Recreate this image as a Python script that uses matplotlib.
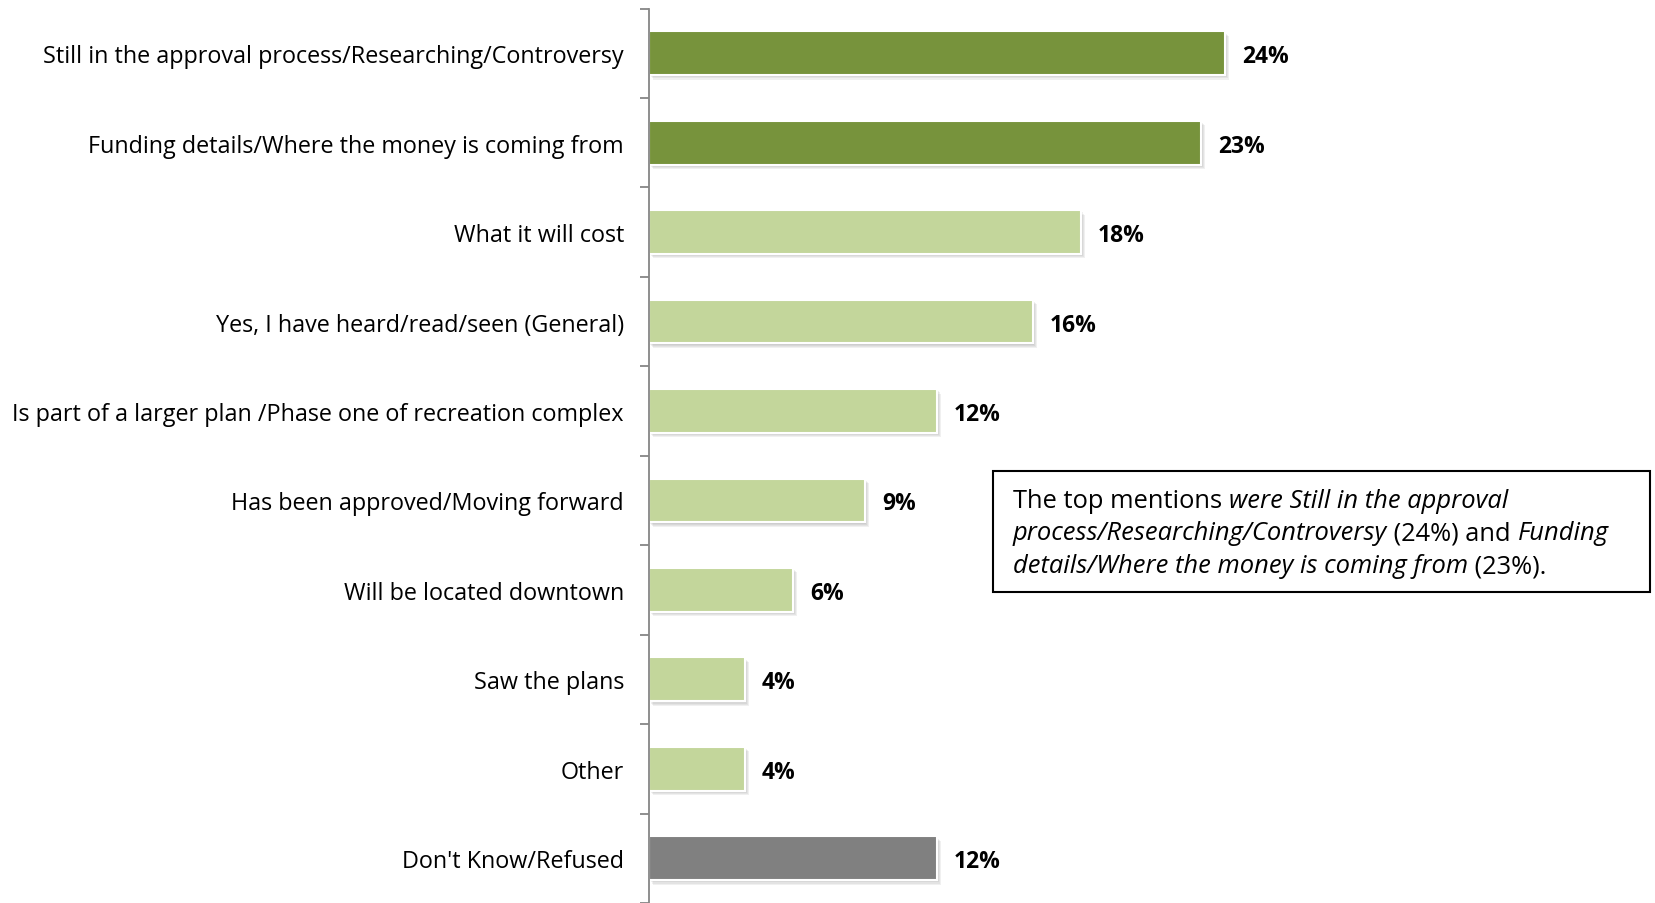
import numpy as np
import matplotlib
matplotlib.use('Agg')
import matplotlib.pyplot as plt
from matplotlib import patheffects as pe
from matplotlib.patches import Rectangle

plt.rcParams['font.family'] = ['Open Sans', 'DejaVu Sans']

# data
categories = [
    'Still in the approval process/Researching/Controversy',
    'Funding details/Where the money is coming from',
    'What it will cost',
    'Yes, I have heard/read/seen (General)',
    'Is part of a larger plan /Phase one of recreation complex',
    'Has been approved/Moving forward',
    'Will be located downtown',
    'Saw the plans',
    'Other',
    "Don't Know/Refused",
]
values = [24, 23, 18, 16, 12, 9, 6, 4, 4, 12]
groups = ['top', 'top', 'rest', 'rest', 'rest', 'rest', 'rest', 'rest', 'rest', 'dk']
group_colors = {'top': '#77933C', 'rest': '#C3D69B', 'dk': '#808080'}

W, H = 1655, 904
fig = plt.figure(figsize=(W / 100, H / 100), dpi=100)
x0 = 649
ax = fig.add_axes([x0 / W, 0, 1 - x0 / W, (H - 9.5) / H])

px_per_unit = 24.0
# soft drop shadow like the office chart
shadow = [pe.SimplePatchShadow(offset=(d, -d), shadow_rgbFace='#606060', alpha=0.09)
          for d in (0.8, 1.6, 2.4, 3.2)] + [pe.Normal()]
bars = ax.barh(range(len(values)), values, height=0.49,
               color=[group_colors[g] for g in groups],
               edgecolor='white', linewidth=1.5)
for b in bars:
    b.set_path_effects(shadow)

for i, v in enumerate(values):
    ax.text(v + 17 / px_per_unit, i, f'{v}%', va='center_baseline', ha='left',
            fontsize=16.5, fontweight='bold', color='black')

ax.set_xlim(0, (W - x0) / px_per_unit)
ax.set_ylim(len(values) - 0.5, -0.5)
ax.set_xticks([])
ax.set_yticks(range(len(values)))
ax.set_yticklabels(categories, fontsize=16.85)
ax.set_yticks(np.arange(-0.5, len(values), 1), minor=True)
ax.tick_params(axis='y', which='major', length=0, pad=18)
ax.tick_params(axis='y', which='minor', length=6.5, width=1.3, color='#868686')
for s in ['top', 'right', 'bottom']:
    ax.spines[s].set_visible(False)
ax.spines['left'].set_color('#868686')
ax.spines['left'].set_linewidth(1.3)

# note box
bx, by, bw, bh = 993, 472, 657, 121
fig.patches.append(Rectangle((bx / W, 1 - (by + bh) / H), bw / W, bh / H,
                             transform=fig.transFigure, fill=False,
                             edgecolor='black', linewidth=1.5))

lines = [
    [('The top mentions ', 'normal'), ('were Still in the approval', 'italic')],
    [('process/Researching/Controversy', 'italic'), (' (24%) and ', 'normal'), ('Funding', 'italic')],
    [('details/Where the money is coming from', 'italic'), (' (23%).', 'normal')],
]
tx = 1013
ty0 = 501
for k, segs in enumerate(lines):
    y = 1 - (ty0 + k * 33) / H
    prev = None
    for txt, style in segs:
        if prev is None:
            prev = fig.text(tx / W, y, txt, style=style, fontsize=18.4, va='center', ha='left')
        else:
            prev = ax.annotate(txt, xy=(1, 0), xycoords=prev, va='bottom', ha='left',
                               style=style, fontsize=18.4, annotation_clip=False)

fig.savefig('out.png', dpi=100)
